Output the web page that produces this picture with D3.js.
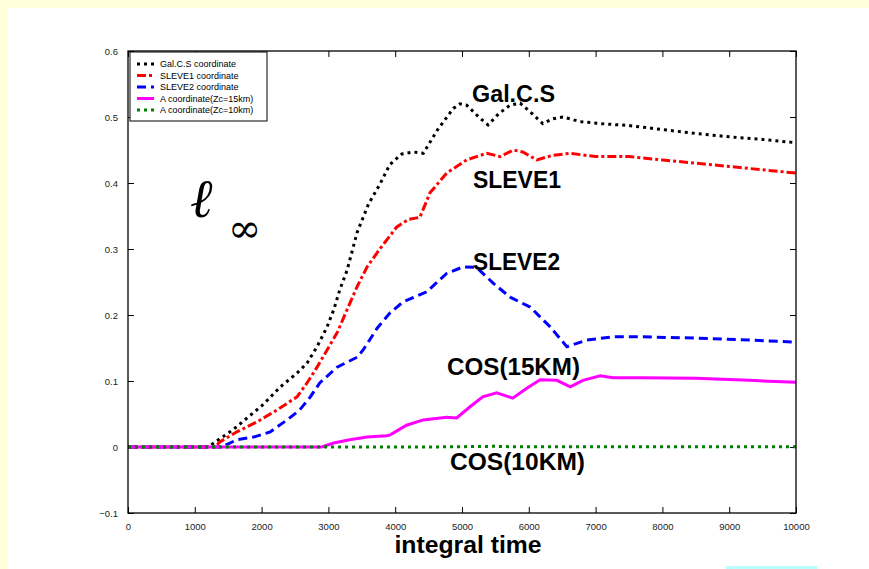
<!DOCTYPE html>
<html>
<head>
<meta charset="UTF-8">
<script src="https://d3js.org/d3.v7.min.js"></script>
<style>
  body { margin: 0; background: #fff; }
  text { font-family: Arial, "Liberation Sans", sans-serif; }
</style>
</head>
<body>
<svg id="chart" width="869" height="569"></svg>
<script>
// [integral time, error] pairs
const galcs = [[0,0],[1200,0],[1570,0.026],[1830,0.048],[2020,0.064],[2280,0.091],[2530,0.112],[2680,0.127],[2830,0.152],[2980,0.182],[3080,0.208],[3170,0.238],[3280,0.268],[3430,0.325],[3600,0.368],[3770,0.398],[3920,0.428],[4100,0.444],[4270,0.447],[4420,0.445],[4630,0.48],[4870,0.513],[4970,0.52],[5070,0.518],[5250,0.50],[5390,0.488],[5550,0.505],[5720,0.518],[5870,0.521],[6050,0.505],[6210,0.49],[6350,0.497],[6510,0.50],[6770,0.493],[7070,0.49],[7500,0.487],[8000,0.481],[8500,0.475],[9000,0.47],[9500,0.466],[10000,0.461]];
const sleve1 = [[0,0],[1300,0],[1380,0.008],[1630,0.023],[1930,0.038],[2230,0.056],[2530,0.076],[2680,0.097],[2830,0.121],[2980,0.147],[3130,0.173],[3280,0.208],[3430,0.243],[3580,0.273],[3770,0.30],[4020,0.333],[4200,0.345],[4370,0.348],[4520,0.385],[4770,0.415],[5070,0.435],[5370,0.445],[5570,0.44],[5770,0.45],[5910,0.447],[6120,0.435],[6360,0.442],[6620,0.445],[7000,0.44],[7500,0.44],[8000,0.435],[8500,0.43],[9000,0.425],[9500,0.42],[10000,0.415]];
const sleve2 = [[0,0],[1400,0],[1630,0.011],[1880,0.015],[2130,0.023],[2380,0.041],[2570,0.056],[2730,0.076],[2870,0.097],[3130,0.121],[3430,0.136],[3520,0.147],[3730,0.18],[3920,0.203],[4120,0.22],[4470,0.235],[4770,0.263],[5020,0.273],[5220,0.272],[5470,0.248],[5720,0.227],[6020,0.212],[6320,0.182],[6570,0.152],[6870,0.162],[7260,0.167],[7660,0.167],[8500,0.165],[9300,0.162],[10000,0.159]];
const cos15 = [[0,0],[2900,0],[3080,0.006],[3320,0.011],[3580,0.015],[3870,0.017],[3920,0.018],[4170,0.033],[4420,0.041],[4770,0.045],[4920,0.044],[5120,0.061],[5310,0.076],[5520,0.082],[5760,0.074],[5970,0.089],[6170,0.102],[6420,0.101],[6620,0.091],[6810,0.101],[7070,0.108],[7260,0.105],[7660,0.105],[8500,0.104],[9300,0.101],[10000,0.098]];
const cos10 = [[0,0],[4500,0],[5500,0.001],[5700,0.0005],[10000,0.0005]];

const legendNames = ["Gal.C.S coordinate", "SLEVE1 coordinate", "SLEVE2 coordinate", "A coordinate(Zc=15km)", "A coordinate(Zc=10km)"];
const xTicks = [0,1000,2000,3000,4000,5000,6000,7000,8000,9000,10000];
const yTicks = [-0.1,0,0.1,0.2,0.3,0.4,0.5,0.6];

const series = [
  { data: galcs,  color: "#000000", dash: "3,4" },
  { data: sleve1, color: "#ff0000", dash: "9,3,3,3" },
  { data: sleve2, color: "#0000ff", dash: "9,5" },
  { data: cos15,  color: "#ff00ff", dash: null },
  { data: cos10,  color: "#008000", dash: "3,4" }
];

const svg = d3.select("#chart");

// slide background
svg.append("rect").attr("width", 869).attr("height", 569).attr("fill", "#fff");
svg.append("rect").attr("width", 869).attr("height", 8).attr("fill", "#ffffdb");
svg.append("rect").attr("width", 8).attr("height", 569).attr("fill", "#ffffdb");
svg.append("rect").attr("x", 726).attr("y", 566).attr("width", 91).attr("height", 3).attr("fill", "#b8ffff");

const L = 128, R = 796, T = 51, B = 513;
const x = d3.scaleLinear().domain([0, 10000]).range([L, R]);
const y = d3.scaleLinear().domain([-0.1, 0.6]).range([B, T]);

const g = svg.append("g");

// axes with inward ticks (matlab style)
g.append("g").attr("transform", `translate(0,${B})`)
  .call(d3.axisBottom(x).tickValues(xTicks).tickSizeInner(-6).tickSizeOuter(0).tickPadding(10).tickFormat(d3.format("d")));
g.append("g").attr("transform", `translate(0,${T})`)
  .call(d3.axisTop(x).tickValues(xTicks).tickSizeInner(-6).tickSizeOuter(0).tickFormat(""));
g.append("g").attr("transform", `translate(${L},0)`)
  .call(d3.axisLeft(y).tickValues(yTicks).tickSizeInner(-6).tickSizeOuter(0).tickPadding(10).tickFormat(d => d === 0 ? "0" : d3.format(".1f")(d)));
g.append("g").attr("transform", `translate(${R},0)`)
  .call(d3.axisRight(y).tickValues(yTicks).tickSizeInner(-6).tickSizeOuter(0).tickFormat(""));
g.selectAll(".domain").remove();
g.selectAll(".tick line").attr("stroke", "#000");
g.selectAll(".tick text").attr("font-size", 9.5).attr("fill", "#222").style("font-family", "Arial, 'Liberation Sans', sans-serif");

const line = d3.line().x(d => x(d[0])).y(d => y(d[1]));
series.forEach(s => {
  g.append("path").datum(s.data)
    .attr("d", line)
    .attr("fill", "none")
    .attr("stroke", s.color)
    .attr("stroke-width", 3)
    .attr("stroke-dasharray", s.dash);
});

// frame
g.append("rect").attr("x", L).attr("y", T).attr("width", R - L).attr("height", B - T)
  .attr("fill", "none").attr("stroke", "#000").attr("stroke-width", 1.3);

// legend
const lg = g.append("g");
lg.append("rect").attr("x", 130).attr("y", 52).attr("width", 137).attr("height", 69)
  .attr("fill", "#fff").attr("stroke", "#000").attr("stroke-width", 1);
legendNames.forEach((name, i) => {
  const yy = 64 + i * 11.5;
  lg.append("line").attr("x1", 137).attr("x2", 154).attr("y1", yy).attr("y2", yy)
    .attr("stroke", series[i].color).attr("stroke-width", 3).attr("stroke-dasharray", series[i].dash);
  lg.append("text").attr("x", 160).attr("y", yy).attr("dy", "0.35em")
    .attr("font-size", 9).attr("fill", "#000").text(name);
});

// curve annotations
const notes = [
  { t: "Gal.C.S",   x: 472, y: 102, w: 83 },
  { t: "SLEVE1",    x: 473, y: 188, w: 88 },
  { t: "SLEVE2",    x: 473, y: 270, w: 87 },
  { t: "COS(15KM)", x: 447, y: 375, w: 133 },
  { t: "COS(10KM)", x: 450, y: 470, w: 135 }
];
notes.forEach(n => {
  g.append("text").attr("x", n.x).attr("y", n.y)
    .attr("font-size", 24).attr("font-weight", "bold")
    .attr("textLength", n.w).attr("lengthAdjust", "spacingAndGlyphs")
    .text(n.t);
});

// l-infinity symbol
g.append("text").attr("x", 190).attr("y", 217).attr("font-size", 54)
  .style("font-family", "'DejaVu Serif', serif").attr("font-style", "italic").text("ℓ");
g.append("text").attr("x", 228).attr("y", 242).attr("font-size", 40)
  .style("font-family", "'DejaVu Serif', serif").text("∞");

// x label
svg.append("text").attr("x", 468).attr("y", 553).attr("text-anchor", "middle")
  .attr("font-size", 24).attr("font-weight", "bold")
  .attr("textLength", 147).attr("lengthAdjust", "spacingAndGlyphs")
  .text("integral  time");
</script>
</body>
</html>
